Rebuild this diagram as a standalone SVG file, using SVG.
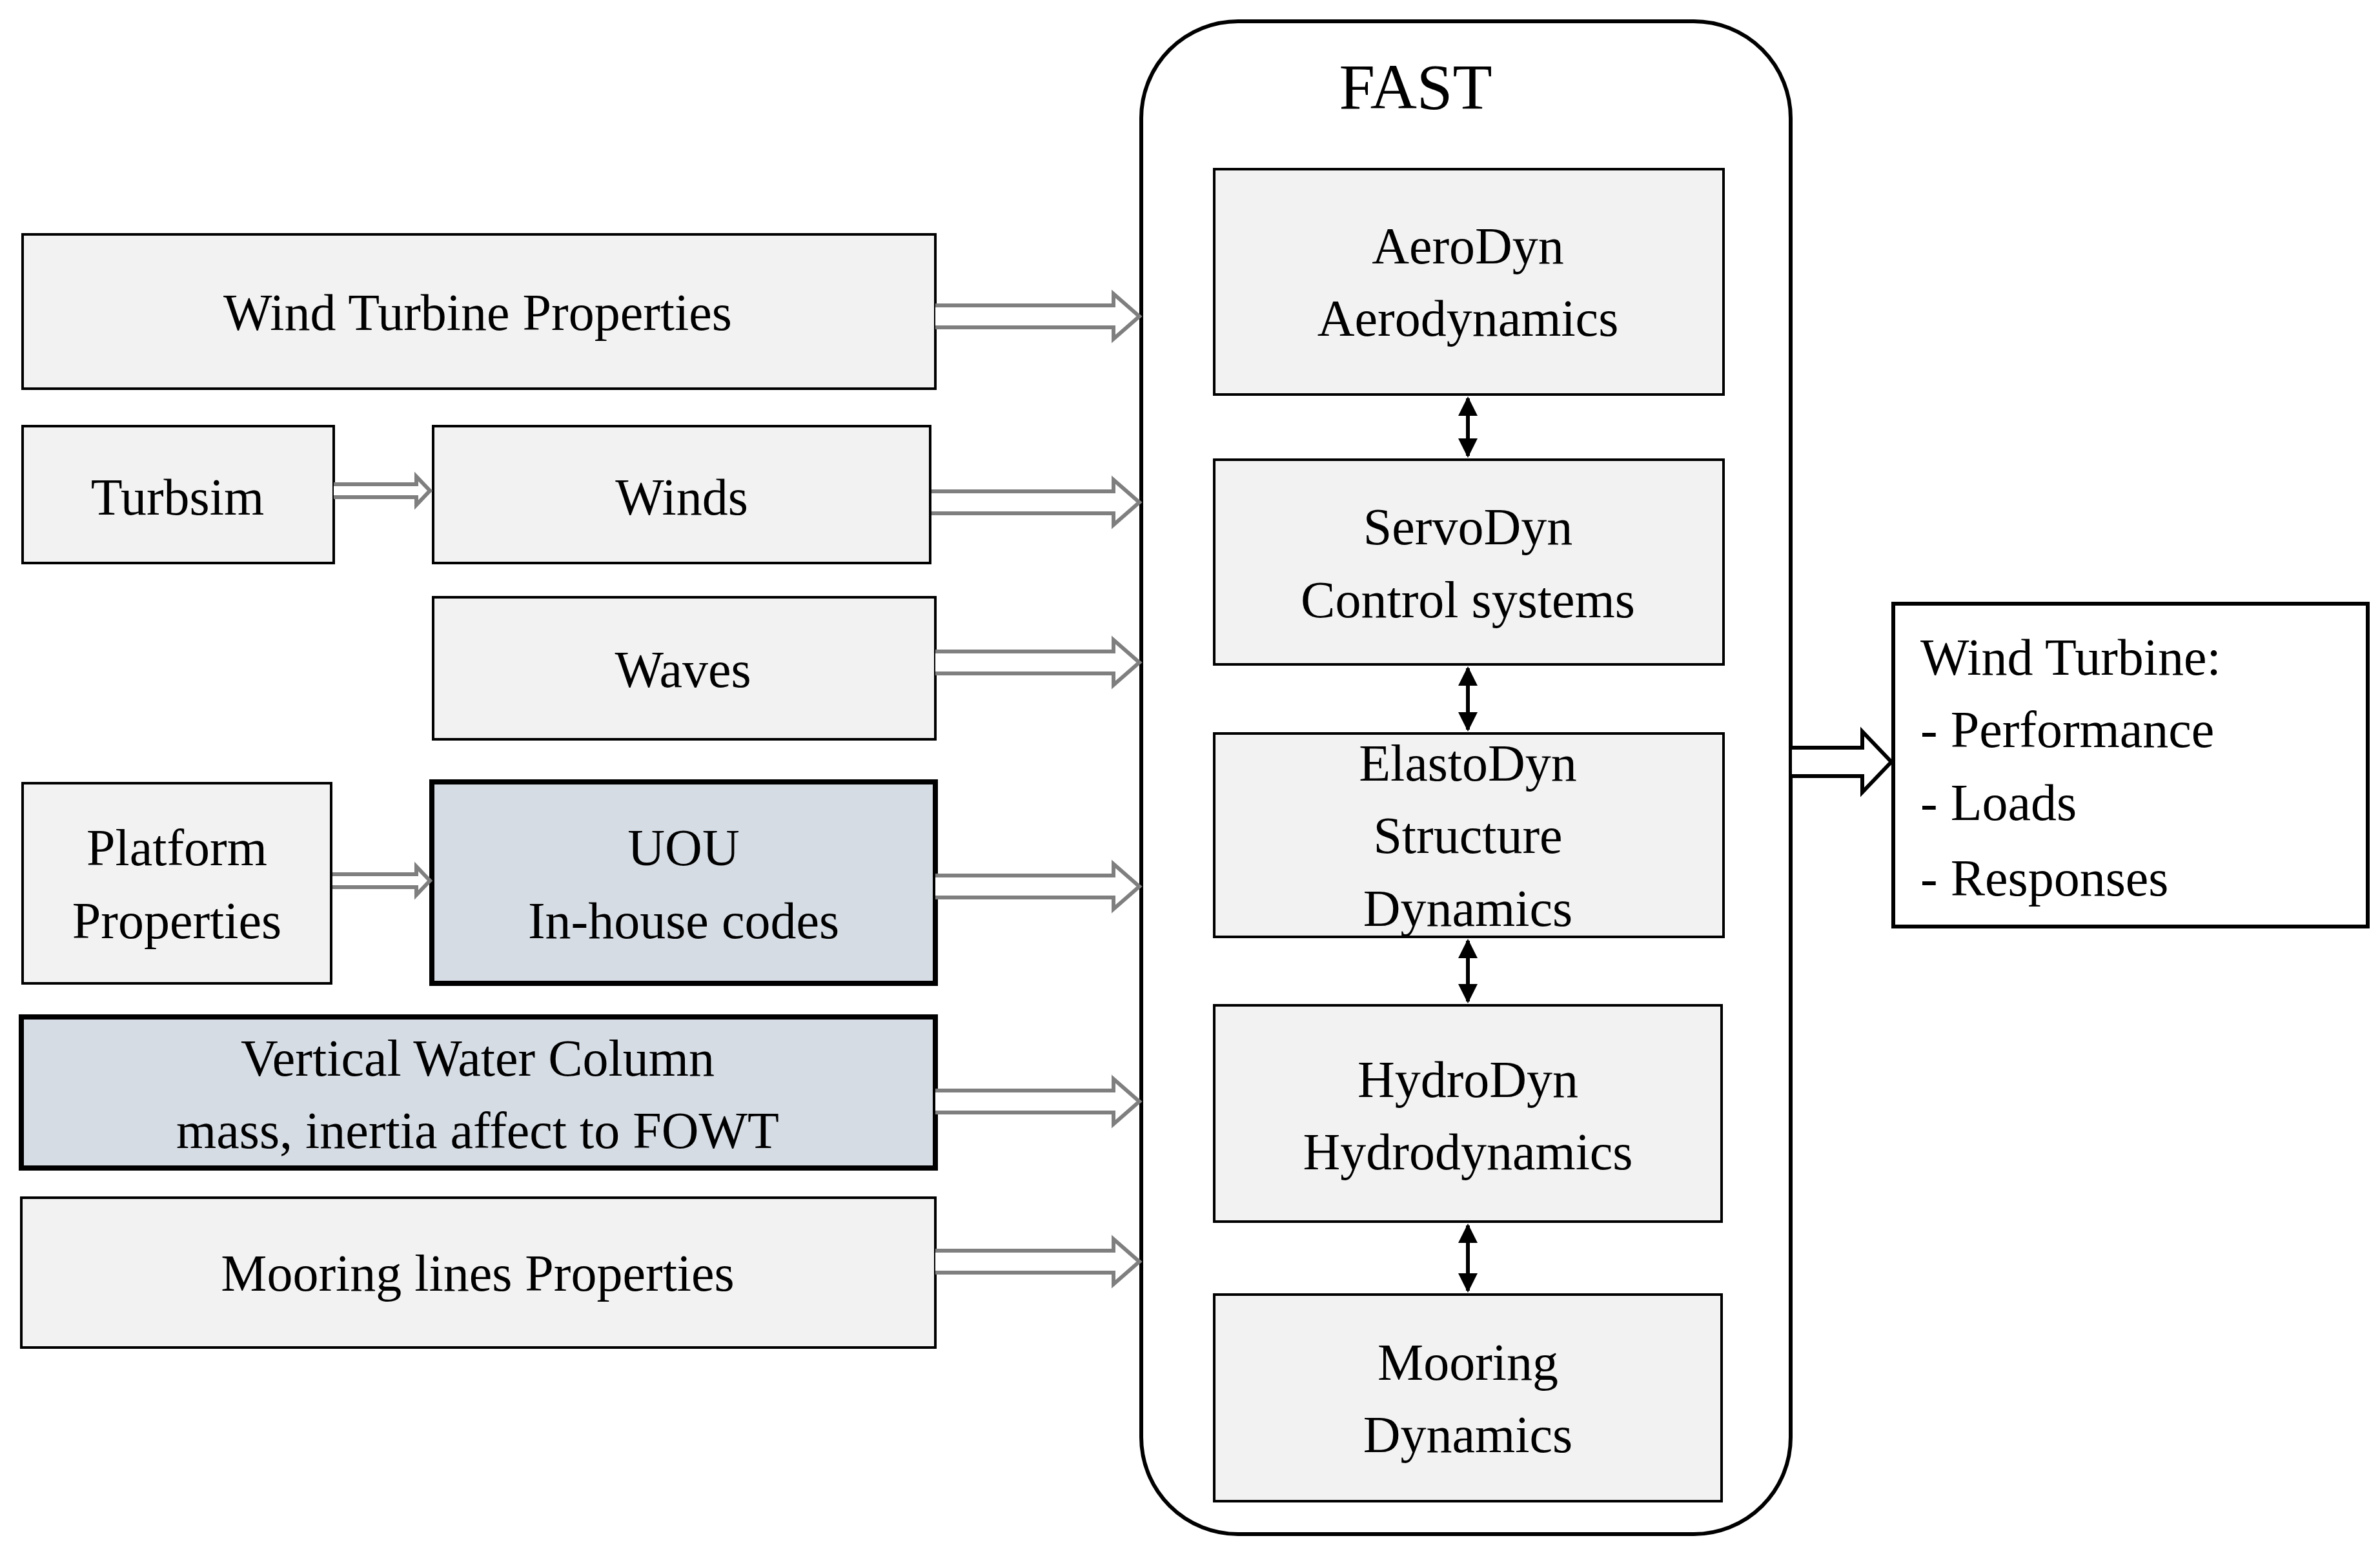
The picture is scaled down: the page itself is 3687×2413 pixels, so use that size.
<svg xmlns="http://www.w3.org/2000/svg" width="3687" height="2413" viewBox="0 0 3687 2413">
<style>
.b{fill:#f2f2f2;stroke:#000;stroke-width:4}
.h{fill:#d6dce4;stroke:#000;stroke-width:8}
.t{font-family:"Liberation Serif","Times New Roman",serif;font-size:80px;fill:#000;text-anchor:middle}
.l{text-anchor:start}
.ga{fill:#fff;stroke:#7f7f7f;stroke-width:6;stroke-linejoin:miter}
.ka{fill:#fff;stroke:#000;stroke-width:6}
.v{stroke:#000;stroke-width:6;fill:none;marker-start:url(#ah);marker-end:url(#ah)}
</style>
<defs>
<marker id="ah" viewBox="0 0 10 10" refX="9" refY="5" markerWidth="5" markerHeight="5" orient="auto-start-reverse"><path d="M0,0 L10,5 L0,10 z" fill="#000"/></marker>
</defs>
<rect width="3687" height="2413" fill="#fff"/>
<g id="fast"><rect x="1768" y="33" width="1006" height="2343" rx="150" fill="#fff" stroke="#000" stroke-width="6"/><text class="t" x="2193" y="168" style="font-size:100px">FAST</text></g>
<g id="wtp"><rect class="b" x="35" y="363" width="1414" height="239"/><text class="t" x="740" y="511">Wind Turbine  Properties</text></g>
<g id="turbsim"><rect class="b" x="35" y="660" width="482" height="212"/><text class="t" x="275" y="797">Turbsim</text></g>
<g id="winds"><rect class="b" x="671" y="660" width="770" height="212"/><text class="t" x="1056" y="797">Winds</text></g>
<g id="waves"><rect class="b" x="671" y="925" width="778" height="220"/><text class="t" x="1058" y="1064">Waves</text></g>
<g id="platform"><rect class="b" x="35" y="1213" width="478" height="310"/><text class="t" x="274" y="1340">Platform</text><text class="t" x="274" y="1453">Properties</text></g>
<g id="uou"><rect class="h" x="669" y="1211" width="780" height="312"/><text class="t" x="1059" y="1340">UOU</text><text class="t" x="1059" y="1453">In-house  codes</text></g>
<g id="vwc"><rect class="h" x="33" y="1575" width="1416" height="234"/><text class="t" x="740" y="1666">Vertical  Water Column</text><text class="t" x="740" y="1778">mass, inertia affect to FOWT</text></g>
<g id="mooringlines"><rect class="b" x="33" y="1855" width="1416" height="232"/><text class="t" x="740" y="1999">Mooring  lines Properties</text></g>
<g id="aerodyn"><rect class="b" x="1881" y="262" width="789" height="349"/><text class="t" x="2274" y="408">AeroDyn</text><text class="t" x="2274" y="520">Aerodynamics</text></g>
<g id="servodyn"><rect class="b" x="1881" y="712" width="789" height="317"/><text class="t" x="2274" y="843">ServoDyn</text><text class="t" x="2274" y="956">Control  systems</text></g>
<g id="elastodyn"><rect class="b" x="1881" y="1136" width="789" height="315"/><text class="t" x="2274" y="1209">ElastoDyn</text><text class="t" x="2274" y="1321">Structure</text><text class="t" x="2274" y="1434">Dynamics</text></g>
<g id="hydrodyn"><rect class="b" x="1881" y="1557" width="786" height="335"/><text class="t" x="2274" y="1699">HydroDyn</text><text class="t" x="2274" y="1811">Hydrodynamics</text></g>
<g id="mooringdyn"><rect class="b" x="1881" y="2005" width="786" height="320"/><text class="t" x="2274" y="2137">Mooring</text><text class="t" x="2274" y="2249">Dynamics</text></g>
<g id="output"><rect x="2933" y="935" width="735" height="500" fill="#fff" stroke="#000" stroke-width="6"/><text class="t l" x="2975" y="1045">Wind Turbine:</text><text class="t l" x="2975" y="1157">- Performance</text><text class="t l" x="2975" y="1270">- Loads</text><text class="t l" x="2975" y="1387">- Responses</text></g>
<g id="connectors">
<path class="ga" d="M1449,473 H1725 V455 L1765,490 L1725,525 V507 H1449"/>
<path class="ga" d="M1443,761 H1725 V743 L1765,778 L1725,813 V795 H1443"/>
<path class="ga" d="M1449,1009 H1725 V991 L1765,1026 L1725,1061 V1043 H1449"/>
<path class="ga" d="M1449,1356 H1725 V1338 L1765,1373 L1725,1408 V1390 H1449"/>
<path class="ga" d="M1449,1689 H1725 V1671 L1765,1706 L1725,1741 V1723 H1449"/>
<path class="ga" d="M1449,1937 H1725 V1919 L1765,1954 L1725,1989 V1971 H1449"/>
<path class="ga" d="M517,750 H645 V738 L666,760 L645,782 V770 H517"/>
<path class="ga" d="M515,1354 H645 V1342 L666,1364 L645,1386 V1374 H515"/>
<path class="ka" d="M2776,1158 H2885 V1133 L2930,1180 L2885,1227 V1202 H2776"/>
<line class="v" x1="2274" y1="617" x2="2274" y2="706"/>
<line class="v" x1="2274" y1="1035" x2="2274" y2="1130"/>
<line class="v" x1="2274" y1="1457" x2="2274" y2="1551"/>
<line class="v" x1="2274" y1="1898" x2="2274" y2="1999"/>
</g>
</svg>
